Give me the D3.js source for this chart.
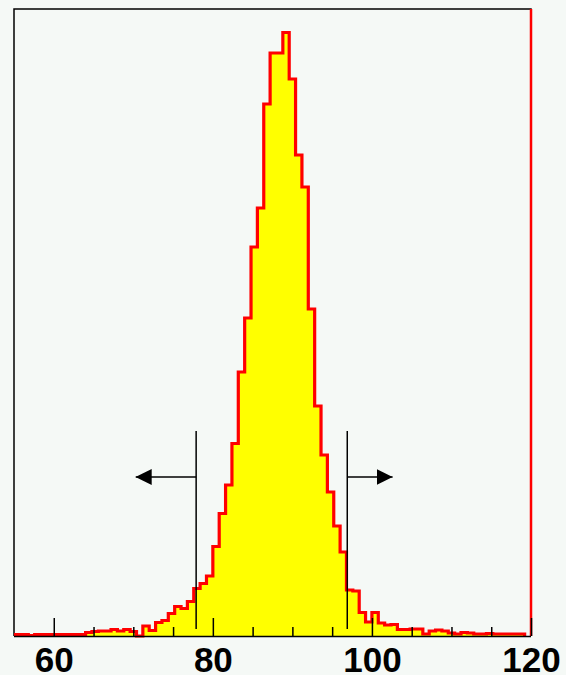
<!DOCTYPE html>
<html>
<head>
<meta charset="utf-8">
<script src="https://cdn.jsdelivr.net/npm/d3@7"></script>
<style>
  body { margin: 0; background: #f5f9f6; }
  svg { display: block; }
</style>
</head>
<body>
<svg class="chart"></svg>
<script>
// bins are 0.8 wide, first bin starts at 54.4 (clipped by the frame at 55)
var binStart = 54.4,
		binWidth = 0.8;

var counts = [
	3, 3, 3, 1, 3, 3, 3, 3, 3, 3, 3, 3,        // 54.4 .. 63.2
	7, 9, 10, 10, 13, 10, 13, 9, 0, 20,        // 64.0 .. 71.2
	11, 27, 31, 45, 59, 55, 69, 95, 105, 120,  // 72.0 .. 79.2
	179, 245, 302, 385, 528, 636, 778, 856,    // 80.0 .. 85.6
	1064, 1166, 1166, 1207, 1114, 962, 898,    // 86.4 .. 91.2
	654, 460, 362, 288, 220, 168, 92, 90,      // 92.0 .. 97.6
	47, 28, 47, 26, 22, 23, 13, 13, 14, 14,    // 98.4 .. 105.6
	4, 10, 12, 10, 6, 4, 7, 6, 4, 4, 5,        // 106.4 .. 114.4
	4, 4, 4, 4, 4                              // 115.2 .. 119.2
];

var majorTicks = [60, 80, 100, 120],
		tickLabels = ["60", "80", "100", "120"],
		minorTicks = [65, 70, 75, 85, 90, 95, 105, 110, 115];

var cuts = [77.9, 96.9],        // vertical cut lines
		arrowTips = [70.3, 102.6],  // where the arrows point to
		cutTop = 410, cutBottom = 14, arrowLevel = 318;

var W = 566, H = 675,
		frameL = 14, frameR = 531, frameT = 9, frameB = 636;

var x = d3.scaleLinear()
		.domain([55, 120])
		.range([frameL, frameR]);

var y = d3.scaleLinear()
		.domain([0, 1254])
		.range([frameB, frameT]);

var svg = d3.select(".chart")
		.attr("width", W)
		.attr("height", H);

svg.append("rect")
		.attr("width", W)
		.attr("height", H)
		.attr("fill", "#f5f9f6");

var defs = svg.append("defs");

defs.append("clipPath")
		.attr("id", "plot")
	.append("rect")
		.attr("x", frameL)
		.attr("y", frameT - 2)
		.attr("width", frameR - frameL)
		.attr("height", frameB - frameT + 4);

// step outline from the bins
var pts = [[binStart, 0]];
counts.forEach(function (c, i) {
	var b0 = binStart + i * binWidth;
	pts.push([b0, c]);
	pts.push([b0 + binWidth, c]);
});
pts.push([binStart + counts.length * binWidth, 0]);

var area = d3.area()
		.x(function (d) { return x(d[0]); })
		.y0(y(0))
		.y1(function (d) { return y(d[1]); });

var line = d3.line()
		.x(function (d) { return x(d[0]); })
		.y(function (d) { return y(d[1]); });

// frame
svg.append("path")
		.attr("d", "M" + frameL + "," + frameB + "V" + frameT + "H" + frameR + "V" + frameB)
		.attr("fill", "none")
		.attr("stroke", "#000")
		.attr("stroke-width", 1.5);

var g = svg.append("g").attr("clip-path", "url(#plot)");

g.append("path")
		.attr("d", area(pts))
		.attr("fill", "#ffff00");

g.append("path")
		.attr("d", line(pts))
		.attr("fill", "none")
		.attr("stroke", "#ff0000")
		.attr("stroke-width", 3.2);

// red edge at the right side of the frame
svg.append("line")
		.attr("x1", x(120)).attr("x2", x(120))
		.attr("y1", frameT).attr("y2", frameB)
		.attr("stroke", "#ff0000")
		.attr("stroke-width", 2.5);

// axis line + ticks (pointing up into the frame)
svg.append("line")
		.attr("x1", frameL).attr("x2", frameR)
		.attr("y1", frameB + 0.5).attr("y2", frameB + 0.5)
		.attr("stroke", "#000")
		.attr("stroke-width", 1.5);

var axMajor = d3.axisBottom(x)
		.tickValues(majorTicks)
		.tickSize(-18)
		.tickPadding(11)
		.tickFormat(function (d, i) { return tickLabels[i]; });

var axMinor = d3.axisBottom(x)
		.tickValues(minorTicks)
		.tickSize(-9)
		.tickFormat("");

var gMinor = svg.append("g")
		.attr("transform", "translate(0," + frameB + ")")
		.call(axMinor);

var gMajor = svg.append("g")
		.attr("transform", "translate(0," + frameB + ")")
		.call(axMajor);

[gMinor, gMajor].forEach(function (a) {
	a.select(".domain").remove();
	a.selectAll(".tick line").attr("stroke", "#000").attr("stroke-width", 1.5);
});

gMajor.selectAll(".tick text")
		.attr("fill", "#000")
		.style("font-family", "'Liberation Sans', Arial, sans-serif")
		.style("font-weight", "bold")
		.style("font-size", "35px");

// cut lines and arrows
defs.append("marker")
		.attr("id", "head")
		.attr("viewBox", "0 0 10 10")
		.attr("refX", 10).attr("refY", 5)
		.attr("markerUnits", "userSpaceOnUse")
		.attr("markerWidth", 16).attr("markerHeight", 16)
		.attr("orient", "auto")
	.append("path")
		.attr("d", "M0,0L10,5L0,10Z")
		.attr("fill", "#000");

cuts.forEach(function (c, i) {
	svg.append("line")
			.attr("x1", x(c)).attr("x2", x(c))
			.attr("y1", y(cutTop)).attr("y2", y(cutBottom))
			.attr("stroke", "#000")
			.attr("stroke-width", 1.5);
	svg.append("line")
			.attr("x1", x(c)).attr("x2", x(arrowTips[i]))
			.attr("y1", y(arrowLevel)).attr("y2", y(arrowLevel))
			.attr("stroke", "#000")
			.attr("stroke-width", 1.5)
			.attr("marker-end", "url(#head)");
});
</script>
</body>
</html>
